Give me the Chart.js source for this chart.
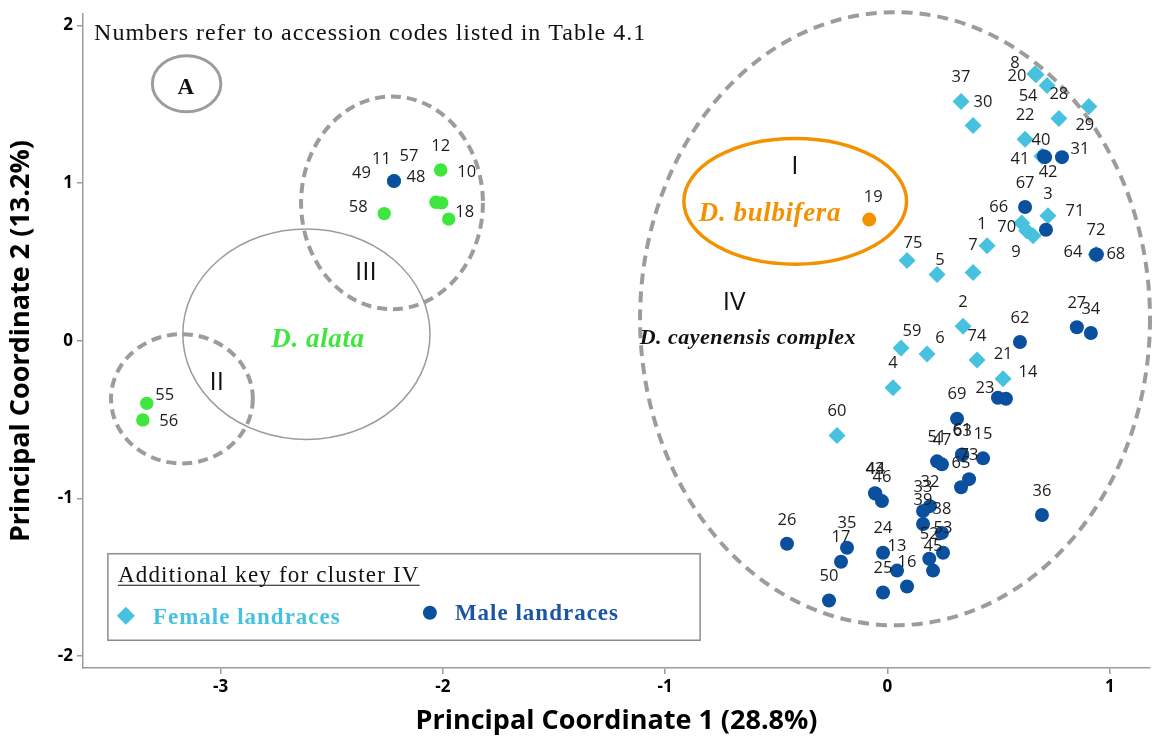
<!DOCTYPE html>
<html>
<head>
<meta charset="utf-8">
<script src="https://cdn.jsdelivr.net/npm/chart.js@4.4.1/dist/chart.umd.min.js"></script>
<style>
  html, body { margin: 0; padding: 0; background: #ffffff; }
  #wrap { width: 1160px; height: 747px; }
</style>
</head>
<body>
<div id="wrap"><canvas id="pcoa" width="1160" height="747"></canvas></div>
<script>
// ---- Principal coordinate scores, by accession code ----
// Cluster IV, female landraces (D. cayenensis complex)
const femaleCodes = [8, 20, 54, 28, 29, 37, 30, 22, 40, 3, 66, 70, 9, 1, 7, 75, 5, 72, 2, 59, 6, 74, 21, 4, 60];
const femaleX = [0.664, 0.668, 0.718, 0.771, 0.906, 0.331, 0.385, 0.619, 0.695, 0.722, 0.604, 0.626, 0.655, 0.448, 0.385, 0.088, 0.223, 0.938, 0.340, 0.061, 0.178, 0.403, 0.520, 0.025, -0.227];
const femaleY = [1.694, 1.688, 1.619, 1.410, 1.486, 1.518, 1.366, 1.278, 1.171, 0.793, 0.748, 0.698, 0.666, 0.603, 0.433, 0.509, 0.421, 0.547, 0.093, -0.046, -0.084, -0.122, -0.241, -0.298, -0.601];

// Male landraces
const maleCodes = [41, 42, 31, 67, 71, 64, 68, 62, 27, 34, 23, 14, 69, 51, 47, 61, 63, 15, 73, 65, 43, 44, 46, 32, 33, 39, 38, 53, 52, 45, 24, 13, 16, 25, 17, 35, 26, 50, 36, 48];
const maleX = [0.704, 0.709, 0.785, 0.619, 0.713, 0.938, 0.942, 0.596, 0.852, 0.915, 0.497, 0.533, 0.313, 0.223, 0.245, 0.335, 0.337, 0.430, 0.367, 0.331, -0.056, -0.054, -0.025, 0.191, 0.160, 0.160, 0.245, 0.250, 0.188, 0.205, -0.020, 0.043, 0.088, -0.020, -0.209, -0.182, -0.452, -0.263, 0.695, -2.220];
const maleY = [1.171, 1.165, 1.165, 0.849, 0.704, 0.547, 0.547, -0.008, 0.086, 0.049, -0.361, -0.368, -0.494, -0.765, -0.784, -0.721, -0.724, -0.746, -0.878, -0.929, -0.967, -0.970, -1.017, -1.049, -1.080, -1.162, -1.219, -1.345, -1.383, -1.458, -1.345, -1.458, -1.559, -1.597, -1.402, -1.313, -1.288, -1.648, -1.105, 1.013];

// D. alata (clusters II and III)
const alataCodes = [55, 56, 58, 12, 10, 57, 18, 49, 11];
const alataX = [-3.332, -3.350, -2.264, -2.010, -2.005, -2.031, -1.974, -2.222, -2.218];
const alataY = [-0.397, -0.502, 0.807, 1.084, 0.875, 0.879, 0.772, 1.013, 1.015];

// D. bulbifera (cluster I)
const bulbiferaCodes = [19];
const bulbiferaX = [-0.082];
const bulbiferaY = [0.769];

// Axis ticks and titles
const xTicks = [-3, -2, -1, 0, 1];
const yTicks = [-2, -1, 0, 1, 2];
const xTitle = 'Principal Coordinate 1 (28.8%)';
const yTitle = 'Principal Coordinate 2 (13.2%)';

// ---- Styling ----
const COL_FEMALE = '#46c2e0';
const COL_MALE = '#0a509f';
const COL_ALATA = '#3ee63e';
const COL_BULB = '#f39200';
const COL_GREY = '#9c9c9c';
const SANS = '"Open Sans", "Noto Sans", sans-serif';
const SERIF = '"Liberation Serif", "DejaVu Serif", serif';

// Where a code label sits relative to its marker (pixels); default is just above
const labelShift = {
  8: [-20, -10], 20: [-19, 2], 54: [-19, 11], 29: [-4, 19], 30: [10, -23],
  40: [-1, -16], 41: [-24, 3], 42: [3, 15], 31: [18, -8],
  66: [-23, -16], 70: [-20, -3], 9: [-17, 16], 1: [-5, -21], 7: [0, -27],
  71: [29, -19], 64: [-23, -2], 68: [19, 0], 75: [6, -17], 5: [3, -14],
  59: [11, -17], 6: [13, -16], 14: [22, -26], 23: [-13, -9], 3: [0, -21],
  48: [22, -4], 49: [-32, -8], 11: [-13, -22], 57: [-27, -46], 10: [25, -31],
  58: [-26, -6], 18: [16, -7], 55: [18, -8], 56: [26, 1], 19: [4, -22]
};
const DEFAULT_SHIFT = [0, -24];

// Cluster outlines in data units
const outlines = [
  { cx: 0.034, cy: 0.140, rx: 1.147, ry: 1.945, color: COL_GREY, width: 4, dash: [11, 7] },   // IV
  { cx: -2.229, cy: 0.875, rx: 0.409, ry: 0.675, color: COL_GREY, width: 4, dash: [10, 6] },  // III
  { cx: -3.174, cy: -0.368, rx: 0.319, ry: 0.410, color: COL_GREY, width: 4, dash: [10, 6] }, // II
  { cx: -2.614, cy: 0.042, rx: 0.556, ry: 0.668, color: COL_GREY, width: 1.5, dash: [] },     // D. alata
  { cx: -0.415, cy: 0.885, rx: 0.501, ry: 0.399, color: COL_BULB, width: 3.5, dash: [] },     // I
  { cx: -3.153, cy: 1.631, rx: 0.154, ry: 0.178, color: COL_GREY, width: 3, dash: [] }        // A
];

// Free text in data units
const notes = [
  { text: 'Numbers refer to accession codes listed in Table 4.1', x: -3.569, y: 1.946, font: '24px ' + SERIF, spacing: 1, color: '#111', align: 'left' },
  { text: 'A', x: -3.156, y: 1.606, font: 'bold 23px ' + SERIF, spacing: 0, color: '#111', align: 'center' },
  { text: 'I', x: -0.416, y: 1.108, font: '26px ' + SANS, spacing: 0, color: '#111', align: 'center' },
  { text: 'D. bulbifera', x: -0.529, y: 0.805, font: 'italic bold 27px ' + SERIF, spacing: 0.6, color: COL_BULB, align: 'center' },
  { text: 'IV', x: -0.690, y: 0.242, font: '26px ' + SANS, spacing: 0, color: '#111', align: 'center' },
  { text: 'D. cayenensis complex', x: -0.628, y: 0.017, font: 'italic bold 22px ' + SERIF, spacing: 0.5, color: '#111', align: 'center' },
  { text: 'III', x: -2.346, y: 0.433, font: '26px ' + SANS, spacing: 0, color: '#111', align: 'center' },
  { text: 'D. alata', x: -2.562, y: 0.004, font: 'italic bold 27px ' + SERIF, spacing: 0.6, color: COL_ALATA, align: 'center' },
  { text: 'II', x: -3.017, y: -0.267, font: '26px ' + SANS, spacing: 0, color: '#111', align: 'center' }
];

function points(codes, xs, ys) {
  return codes.map((c, i) => ({ x: xs[i], y: ys[i], code: c }));
}

function setSpacing(ctx, px) {
  if ('letterSpacing' in ctx) ctx.letterSpacing = px + 'px';
}

// Draws the cluster outlines and their names beneath the markers
const outlinePlugin = {
  id: 'outlines',
  beforeDatasetsDraw(chart) {
    const { ctx, scales: { x, y } } = chart;
    ctx.save();
    outlines.forEach(o => {
      const px = x.getPixelForValue(o.cx);
      const py = y.getPixelForValue(o.cy);
      const rx = Math.abs(x.getPixelForValue(o.cx + o.rx) - px);
      const ry = Math.abs(y.getPixelForValue(o.cy + o.ry) - py);
      ctx.beginPath();
      ctx.ellipse(px, py, rx, ry, 0, 0, Math.PI * 2);
      ctx.lineWidth = o.width;
      ctx.strokeStyle = o.color;
      ctx.setLineDash(o.dash);
      ctx.stroke();
    });
    ctx.setLineDash([]);
    notes.forEach(n => {
      ctx.font = n.font;
      setSpacing(ctx, n.spacing);
      ctx.fillStyle = n.color;
      ctx.textAlign = n.align;
      ctx.textBaseline = 'middle';
      ctx.fillText(n.text, x.getPixelForValue(n.x), y.getPixelForValue(n.y));
    });
    setSpacing(ctx, 0);
    ctx.restore();
  }
};

// Writes each accession code next to its marker
const codePlugin = {
  id: 'codes',
  afterDatasetsDraw(chart) {
    const { ctx } = chart;
    ctx.save();
    ctx.font = '16.5px ' + SANS;
    ctx.fillStyle = '#1c1c1c';
    ctx.textAlign = 'center';
    ctx.textBaseline = 'middle';
    chart.data.datasets.forEach((ds, di) => {
      const meta = chart.getDatasetMeta(di);
      meta.data.forEach((el, i) => {
        const code = ds.data[i].code;
        const s = labelShift[code] || DEFAULT_SHIFT;
        ctx.fillText(String(code), el.x + s[0], el.y + s[1]);
      });
    });
    ctx.restore();
  }
};

// Boxed key for the two landrace groups of cluster IV
const keyPlugin = {
  id: 'clusterKey',
  afterDraw(chart) {
    const { ctx, scales: { x, y } } = chart;
    const left = x.getPixelForValue(-3.507), right = x.getPixelForValue(-0.843);
    const top = y.getPixelForValue(-1.351), bottom = y.getPixelForValue(-1.900);
    ctx.save();
    ctx.fillStyle = '#ffffff';
    ctx.fillRect(left, top, right - left, bottom - top);
    ctx.strokeStyle = '#8c8c8c';
    ctx.lineWidth = 1.5;
    ctx.strokeRect(left, top, right - left, bottom - top);

    const title = 'Additional key for cluster IV';
    ctx.font = '23px ' + SERIF;
    setSpacing(ctx, 1.2);
    ctx.fillStyle = '#111';
    ctx.textAlign = 'left';
    ctx.textBaseline = 'alphabetic';
    const tx = left + 10, ty = top + 28;
    ctx.fillText(title, tx, ty);
    const tw = ctx.measureText(title).width;
    ctx.beginPath();
    ctx.moveTo(tx, ty + 3.5);
    ctx.lineTo(tx + tw, ty + 3.5);
    ctx.lineWidth = 1.2;
    ctx.strokeStyle = '#111';
    ctx.stroke();

    const rowY = top + 62;
    ctx.beginPath();
    ctx.moveTo(left + 18, rowY - 9);
    ctx.lineTo(left + 27, rowY);
    ctx.lineTo(left + 18, rowY + 9);
    ctx.lineTo(left + 9, rowY);
    ctx.closePath();
    ctx.fillStyle = COL_FEMALE;
    ctx.fill();
    ctx.font = 'bold 23px ' + SERIF;
    setSpacing(ctx, 1);
    ctx.textBaseline = 'middle';
    ctx.fillText('Female landraces', left + 45, rowY + 2);

    ctx.beginPath();
    ctx.arc(left + 322, rowY - 3, 7, 0, Math.PI * 2);
    ctx.fillStyle = COL_MALE;
    ctx.fill();
    ctx.fillStyle = '#1b56a6';
    ctx.fillText('Male landraces', left + 347, rowY - 2);
    setSpacing(ctx, 0);
    ctx.restore();
  }
};

new Chart(document.getElementById('pcoa'), {
  type: 'scatter',
  data: {
    datasets: [
      {
        label: 'Male landraces',
        data: points(maleCodes, maleX, maleY),
        pointStyle: 'circle', pointRadius: 7, pointBorderWidth: 0,
        backgroundColor: COL_MALE, borderColor: COL_MALE
      },
      {
        label: 'Female landraces',
        data: points(femaleCodes, femaleX, femaleY),
        pointStyle: 'rectRot', pointRadius: 8.5, pointBorderWidth: 0,
        backgroundColor: COL_FEMALE, borderColor: COL_FEMALE
      },
      {
        label: 'D. alata',
        data: points(alataCodes, alataX, alataY),
        pointStyle: 'circle', pointRadius: 6.7, pointBorderWidth: 0,
        backgroundColor: COL_ALATA, borderColor: COL_ALATA
      },
      {
        label: 'D. bulbifera',
        data: points(bulbiferaCodes, bulbiferaX, bulbiferaY),
        pointStyle: 'circle', pointRadius: 7, pointBorderWidth: 0,
        backgroundColor: COL_BULB, borderColor: COL_BULB
      }
    ]
  },
  options: {
    responsive: false,
    animation: false,
    events: [],
    layout: { padding: { top: 10, right: 10, left: 0, bottom: 0 } },
    plugins: { legend: { display: false }, tooltip: { enabled: false } },
    scales: {
      x: {
        type: 'linear',
        min: -3.619, max: 1.181,
        afterFit(scale) { scale.height = 79; },
        afterBuildTicks(scale) { scale.ticks = xTicks.map(v => ({ value: v })); },
        grid: { display: true, drawOnChartArea: false, drawTicks: true, tickLength: 6, color: COL_GREY, lineWidth: 1.5 },
        border: { display: true, color: COL_GREY, width: 1.5 },
        ticks: { color: '#000', padding: 3, font: { family: SANS, size: 17, weight: 'bold' } },
        title: { display: true, text: xTitle, color: '#000', padding: { top: 0, bottom: 9 }, font: { family: SANS, size: 27, weight: 'bold' } }
      },
      y: {
        type: 'linear',
        min: -2.076, max: 2.072,
        afterFit(scale) { scale.width = 83; },
        afterBuildTicks(scale) { scale.ticks = yTicks.map(v => ({ value: v })); },
        grid: { display: true, drawOnChartArea: false, drawTicks: true, tickLength: 6, color: COL_GREY, lineWidth: 1.5 },
        border: { display: true, color: COL_GREY, width: 1.5 },
        ticks: { color: '#000', padding: 4, font: { family: SANS, size: 17, weight: 'bold' } },
        title: { display: true, text: yTitle, color: '#000', padding: { top: 5, bottom: 0 }, font: { family: SANS, size: 27, weight: 'bold' } }
      }
    }
  },
  plugins: [outlinePlugin, codePlugin, keyPlugin]
});
</script>
</body>
</html>
